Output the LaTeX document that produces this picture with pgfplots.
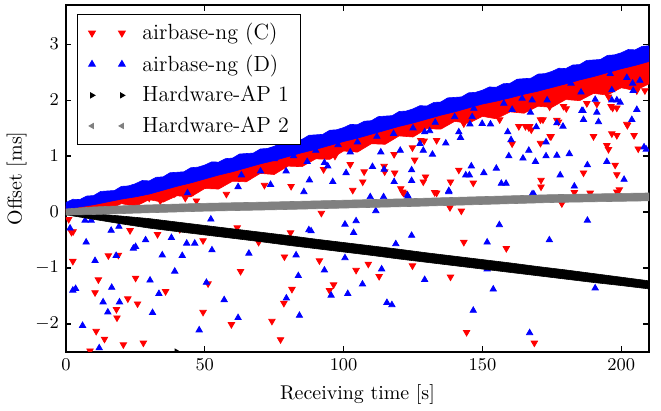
\documentclass[border=0pt]{standalone}
\usepackage{pgfplots}
\pgfplotsset{compat=1.18}
\definecolor{hwgray}{RGB}{128,128,128}
\begin{document}
\begin{tikzpicture}
\begin{axis}[
  scale only axis, width=292.5pt, height=174pt,
  xmin=0, xmax=210, ymin=-2.5, ymax=3.7,
  xtick={0,50,100,150,200}, ytick={-2,-1,0,1,2,3},
  major tick length=2.8pt,
  tick style={black, line width=0.6pt},
  axis line style={line width=0.8pt},
  tick label style={font=\fontsize{9.5}{10}\selectfont},
  xlabel={Receiving time [s]}, ylabel={Offset [ms]},
  ylabel shift=-2.5pt,
  label style={font=\fontsize{10}{12}\selectfont},
  clip marker paths=true,
  legend style={at={(0.0188,0.975)}, anchor=north west, draw=black, line width=0.6pt,
    font=\fontsize{11}{13}\selectfont, row sep=2pt, inner xsep=4pt, inner ysep=2.5pt,
    cells={anchor=west}},
  legend image code/.code={\draw[mark repeat=1,mark phase=1,#1] plot coordinates {(3pt,0pt) (18pt,0pt)}; \path (0pt,0pt) (26pt,0pt);},
]
\coordinate (sw) at (rel axis cs:0,0);
\coordinate (ne) at (rel axis cs:1,1);
% ---------- airbase-ng (C): dense band ----------
\addplot[fill=red, draw=red, line width=0.3pt, forget plot] coordinates {
(0,0.11) (10,0.24) (20,0.38) (30,0.51) (40,0.65) (50,0.78) (60,0.91) (70,1.05) (80,1.18) (90,1.31) (100,1.45)
(110,1.58) (120,1.72) (130,1.85) (140,1.98) (150,2.12) (160,2.25) (170,2.38) (180,2.52) (190,2.65) (200,2.79) (210,2.92)
(210,2.29) (205,2.17) (200,2.22) (195,2.09) (190,2.12) (185,1.99) (180,2.01) (175,1.87) (170,1.89) (165,1.765) (160,1.79)
(155,1.665) (150,1.71) (145,1.585) (140,1.62) (135,1.48) (130,1.49) (125,1.34) (120,1.36) (115,1.21) (110,1.22) (105,1.07)
(100,1.09) (95,0.94) (90,0.95) (85,0.81) (80,0.82) (75,0.67) (70,0.69) (65,0.54) (60,0.55) (55,0.41) (50,0.42)
(45,0.27) (40,0.29) (35,0.175) (30,0.22) (25,0.10) (20,0.15) (15,0.035) (10,0.08) (5,-0.02) (0,-0.01)
} -- cycle;
\addplot[only marks, mark=triangle*, mark size=1.85pt, color=red, mark options={rotate=180}] coordinates {
(1,-0.13) (2,-0.36) (2.6,-0.35) (2.5,-0.88) (10.5,-1.44) (10.9,-2.13) (11.7,-1.21) (13.9,-2.27) (15.3,-0.78)
(18.2,-1.74) (18.4,-1.89) (18.9,-0.77) (20.7,-2.37) (22.3,-1.55) (23.1,-0.33) (25.1,-1.18) (25.8,-1.64) (27.9,-2.34)
(33,-0.4) (35.9,-1.42) (41,-0.31) (49.4,-0.51) (49.4,-1.79) (51.2,-1.28) (59.6,-2.01) (61.7,-0.28) (62.9,-1.06)
(69.4,-0.54) (74.2,-1.95) (77.3,-2.28) (78.5,-1.63) (78.7,-0.8) (80.9,-0.37) (81.4,-1.38) (91.3,-0.87) (94.9,-1.4)
(96.4,-1.3) (104.5,-1.04) (92,-0.02) (8.7,-2.48) (108.9,-0.93) (112.8,-1.15) (124.8,-0.96) (138.5,-1.16)
(143.3,-0.54) (158.6,-0.65) (144.3,-2.15) (168.7,-2.34) (138.3,0.08) (142.4,0.02) (132.8,0.35) (121.2,0.36)
(183.1,0.35) (188.8,0.34) (198.4,0.36) (178.6,0.15)
(39.2,0.33) (41,0.36) (45.8,0.36) (57.8,0.32) (87.1,1.01) (92.8,0.76) (96.9,1.0) (102.4,0.85) (81.1,0.46)
(71.5,0.48) (103.3,0.39) (30,0.25) (34,0.2) (37,0.3) (43,0.25) (47,0.2)
(106.9,0.54) (107.4,0.72) (114.6,0.82) (114.8,0.72) (118.2,1.03) (118.4,0.70) (120.6,0.42) (121.6,0.34)
(124.8,1.15) (125.6,0.93) (127.8,1.28) (129,1.27) (133.5,1.28) (138.5,0.54) (141.5,0.75) (146.7,0.52)
(160.7,1.22) (163.1,1.53) (165.5,1.53) (167,1.53) (167.6,1.47) (170.9,1.23) (171.1,0.57) (171.1,0.45)
(171.8,1.65) (174.7,1.35) (177.4,1.61) (179.2,1.89) (180.2,1.85) (186.4,0.7) (187.6,1.94) (190,1.35)
(191.2,1.93) (195.4,2.06) (194.8,1.19) (195.4,1.12) (196.6,1.4) (198.4,1.37) (196.3,1.89) (198.4,1.86)
(198.4,0.67) (199.3,0.4) (197.8,0.84) (202.2,1.55) (204.6,1.37) (206.1,1.13) (208.5,2.17) (133.5,0.34)
(128.7,0.54) (129.5,0.63) (174.2,1.88) (170.9,1.65) (156.2,1.65) (166.7,1.51) (176.8,1.64) (196.9,1.86)
(202,1.57) (174.4,1.35) (143.3,1.58) (205.6,2.17)
};
\addlegendentry{airbase-ng (C)}
% ---------- airbase-ng (D): dense band ----------
\addplot[fill=blue, draw=blue, line width=0.3pt, forget plot] coordinates {
(0,0.17) (2.5,0.228) (5,0.222) (7.5,0.285) (10,0.294) (12.5,0.367) (15,0.376) (17.5,0.384) (20,0.458) (22.5,0.466)
(25,0.505) (27.5,0.563) (30,0.556) (32.5,0.62) (35,0.628) (37.5,0.702) (40,0.71) (42.5,0.719) (45,0.792) (47.5,0.801)
(50,0.839) (52.5,0.897) (55,0.891) (57.5,0.954) (60,0.963) (62.5,1.036) (65,1.045) (67.5,1.053) (70,1.127) (72.5,1.135)
(75,1.174) (77.5,1.232) (80,1.225) (82.5,1.289) (85,1.297) (87.5,1.371) (90,1.379) (92.5,1.388) (95,1.461) (97.5,1.47)
(100,1.508) (102.5,1.566) (105,1.56) (107.5,1.623) (110,1.632) (112.5,1.705) (115,1.714) (117.5,1.722) (120,1.796) (122.5,1.804)
(125,1.843) (127.5,1.901) (130,1.894) (132.5,1.958) (135,1.966) (137.5,2.04) (140,2.048) (142.5,2.057) (145,2.13) (147.5,2.139)
(150,2.177) (152.5,2.235) (155,2.229) (157.5,2.292) (160,2.301) (162.5,2.374) (165,2.383) (167.5,2.391) (170,2.465) (172.5,2.473)
(175,2.512) (177.5,2.57) (180,2.563) (182.5,2.627) (185,2.635) (187.5,2.709) (190,2.717) (192.5,2.726) (195,2.799) (197.5,2.808)
(200,2.846) (202.5,2.904) (205,2.898) (207.5,2.961) (210,2.97)
(210,2.69) (205,2.62) (200,2.56) (195,2.49) (190,2.42) (185,2.36) (180,2.29) (175,2.225) (170,2.16)
(165,2.105) (160,2.04) (155,1.98) (150,1.93) (145,1.86) (140,1.79) (135,1.73) (130,1.66) (125,1.59)
(120,1.53) (115,1.46) (110,1.39) (105,1.32) (100,1.26) (95,1.19) (90,1.12) (85,1.06) (80,0.99) (75,0.92)
(70,0.86) (65,0.79) (60,0.72) (55,0.66) (50,0.59) (45,0.52) (40,0.46) (35,0.39) (30,0.32) (25,0.27)
(20,0.23) (15,0.18) (10,0.13) (5,0.09) (0,0.04)
} -- cycle;
\addplot[only marks, mark=triangle*, mark size=1.8pt, color=blue] coordinates {
(1.5,-0.29) (2.5,-1.4) (3.5,-1.37) (6,-2.03) (6.9,-0.15) (9.1,-0.15) (7.3,-0.54) (10.5,-0.87) (12,-2.43)
(13.4,-1.61) (15.1,-1.79) (16.3,-0.33) (16.5,-1.35) (18.1,-0.78) (19.3,-1.61) (19.1,-0.26) (24.3,-0.65)
(25.1,-0.62) (28.7,-0.5) (30.3,-1.22) (31.2,-1.8) (33.5,-1.46) (34.7,-0.77) (38,-0.46) (39.2,-1.06)
(41.9,-0.78) (43.5,-0.56) (46.4,-0.56) (48,-2.11) (50.6,-1.26) (52.6,-0.68) (52.2,-0.13) (57,-1.57)
(62,-1.89) (65.9,-0.74) (79.4,-1.54) (82.9,-0.77) (83.7,-1.14) (84.1,-1.85) (87.5,-0.32) (88.3,-0.34)
(93.1,-1.04) (95.5,-1.49) (100.5,-0.22) (100.5,-0.82) (101.5,-1.46) (104.5,-0.16) (103.6,-0.37)
(111.6,0.02) (109.6,0.27) (114.4,0.27) (123.2,0.28) (137.9,0.36) (118.8,-0.57) (124.5,-0.42) (113.7,-1.02)
(106.8,-1.29) (115.6,-1.62) (117.4,-1.66) (129.2,-1.21) (151.7,-0.54) (151.7,-1.02) (156.1,-0.23)
(153.9,-1.38) (146.7,-1.76) (167,-2.16) (174.1,-0.5) (187.8,-0.15) (190.6,-1.36) (168.5,0.32)
(43.8,0.34) (63.2,0.66) (70.1,0.73) (62,0.45) (73.7,0.49) (79.3,0.73) (86.9,0.9) (93.1,0.88) (94.3,0.82)
(100.9,0.7) (96.1,0.54) (87.7,0.57) (102.4,1.07) (85.7,0.36)
(149.9,1.58) (152.9,1.57) (159.1,1.43) (160.3,1.29) (159.5,1.0) (164.6,0.96) (166.7,1.1) (169.1,0.9)
(172.9,1.25) (172.9,1.0) (176.8,1.59) (176.8,1.01) (178,0.66) (181.3,1.04) (183.1,0.46) (185.8,1.81)
(186.4,1.65) (187.8,0.84) (190.6,2.01) (191.2,1.78) (191.8,1.61) (194.8,0.9) (196.6,2.0) (198.4,2.0)
(199.6,1.96) (201,0.58) (203.8,1.65) (205.6,1.83) (208.2,1.16) (209,1.12) (146,0.82) (144,0.66) (145.3,0.66)
(150.5,0.7) (155,0.78) (156.8,0.51) (158.5,0.51) (136.8,1.23) (128.7,1.1) (132,1.03) (127.5,1.22)
(124.5,0.75) (124.5,0.56) (118.2,0.54) (114.6,0.76) (110.4,0.81) (120.4,1.1) (113.4,1.07) (123,0.3)
(137.9,0.38) (167.9,0.32) (129.2,1.43) (131,1.45) (141.5,1.43) (142.1,1.33) (145.5,1.57)
(146.3,1.7) (167.3,1.78) (169.4,1.52) (179,1.53) (186.2,1.81) (196.6,2.18) (202,2.4) (204.1,2.3)
(204.3,2.17) (206.7,2.35) (181.9,2.3) (196,2.47) (185.5,2.14) (173.3,2.0) (167.9,2.0) (164.3,2.03)
(157.7,1.94) (160.7,1.83) (146.9,1.85) (75,0.95) (82,1.0) (90,1.1) (98,1.2) (105,1.25) (112,1.35)
(118,1.4) (125,1.5) (133,1.6) (140,1.7)
};
\addlegendentry{airbase-ng (D)}
% ---------- Hardware-AP 1 ----------
\addplot[fill=black, draw=black, line width=0.3pt, forget plot] coordinates {
(0,0.01) (10,-0.031) (20,-0.072) (30,-0.118) (40,-0.179) (50,-0.24) (60,-0.30) (70,-0.36) (80,-0.42)
(90,-0.485) (100,-0.545) (110,-0.605) (120,-0.665) (130,-0.73) (140,-0.79) (150,-0.85) (160,-0.91)
(170,-0.975) (180,-1.035) (190,-1.10) (200,-1.165) (210,-1.23)
(210,-1.375) (200,-1.315) (190,-1.26) (180,-1.2) (170,-1.14) (160,-1.08) (150,-1.02) (140,-0.96)
(130,-0.9) (120,-0.84) (110,-0.775) (100,-0.715) (90,-0.655) (80,-0.595) (70,-0.53) (60,-0.47)
(50,-0.41) (40,-0.35) (30,-0.288) (20,-0.212) (10,-0.131) (0,-0.05)
} -- cycle;
\addplot[only marks, mark=triangle*, mark size=1.3pt, color=black, mark options={rotate=-90}] coordinates {
(39.8,-2.49) (105,-0.66) (180,-1.12)
};
\addlegendentry{Hardware-AP 1}
% ---------- Hardware-AP 2 ----------
\addplot[fill=hwgray, draw=hwgray, line width=0.3pt, forget plot] coordinates {
(0,0.055) (10,0.09) (25,0.12) (50,0.155) (75,0.18) (100,0.21) (125,0.24) (150,0.275) (175,0.31) (210,0.34)
(210,0.20) (175,0.17) (150,0.135) (125,0.10) (100,0.07) (75,0.04) (50,0.015) (25,-0.02) (10,-0.045) (0,-0.055)
} -- cycle;
\addplot[only marks, mark=triangle*, mark size=1.3pt, color=hwgray, mark options={rotate=90}] coordinates {
(60,0.09) (140,0.2) (200,0.27)
};
\addlegendentry{Hardware-AP 2}
\end{axis}
\path ([shift={(-32pt,-21.5pt)}]sw) rectangle ([shift={(6pt,2.5pt)}]ne);
\end{tikzpicture}
\end{document}
